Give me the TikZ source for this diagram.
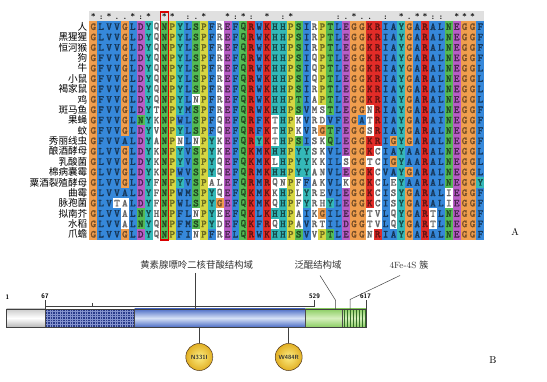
\documentclass[tikz,border=0pt]{standalone}
\usepackage{fontspec}
\newfontfamily\cjk{Noto Sans CJK SC}
\newfontfamily\almono{lmmonolt10-bold.otf}[FakeBold=1.2]
\definecolor{alb}{RGB}{54,136,218}
\definecolor{alr}{RGB}{226,44,40}
\definecolor{alm}{RGB}{184,94,198}
\definecolor{alg}{RGB}{84,186,84}
\definecolor{alo}{RGB}{240,158,78}
\definecolor{aly}{RGB}{214,214,66}
\definecolor{alc}{RGB}{52,184,184}
\definecolor{alw}{RGB}{255,255,255}
\colorlet{altb}{alb!40!black}
\colorlet{altr}{alr!45!black}
\colorlet{altm}{alm!40!black}
\colorlet{altg}{alg!40!black}
\colorlet{alto}{alo!50!black}
\colorlet{alty}{aly!50!black}
\colorlet{altc}{alc!40!black}
\colorlet{altw}{black!60}
\definecolor{navy}{RGB}{40,58,138}
\definecolor{navygrid}{RGB}{130,145,205}
\definecolor{blueA}{RGB}{78,110,198}
\definecolor{blueL}{RGB}{214,226,246}
\definecolor{greenA}{RGB}{140,205,100}
\definecolor{greenL}{RGB}{214,240,190}
\definecolor{hatchg}{RGB}{50,110,40}
\definecolor{goldin}{RGB}{252,236,130}
\definecolor{goldout}{RGB}{226,176,36}
\tikzset{
  res/.style={inner sep=0pt,font=\almono\fontsize{10.6}{10.6}\selectfont},
  splabel/.style={anchor=east,inner sep=0pt,font=\cjk\fontsize{9.6}{10}\selectfont},
  consv/.style={anchor=base,inner sep=0pt,font=\bfseries\fontsize{8}{8}\selectfont},
  cjklab/.style={inner sep=0pt,font=\cjk\fontsize{9.4}{10}\selectfont,text=black!80},
  numlab/.style={inner sep=0pt,font=\sffamily\bfseries\fontsize{6.5}{7}\selectfont},
  leader/.style={draw=black!75,line width=0.5pt},
  gridl/.style={draw=navygrid,line width=0.35pt},
  hatchl/.style={draw=hatchg,line width=0.5pt},
  mut/.style={circle,minimum size=27pt,inner sep=0pt,draw=black!60!brown,line width=0.5pt,
    inner color=goldin,outer color=goldout,font=\sffamily\bfseries\fontsize{6}{6}\selectfont,text=black!80},
  panel/.style={inner sep=0pt,font=\fontsize{10}{10}\selectfont}
}
\makeatletter
\newcount\alcol
\def\alrow#1#2#3#4{%
  \pgfmathsetmacro\rowtop{21.5+(#1-1)*10.38}%
  \edef\rowno{#1}%
  \node[splabel] (lab#1) at (87.5,\rowtop+5.19) {#2};%
  \alcol=0
  \al@step#3\relax#4\relax}
\def\al@step#1#2\relax#3#4\relax{%
  \advance\alcol by 1
  \pgfmathsetmacro\cellx{89.35+(\the\alcol-1)*7.9}%
  \fill[fill=al#3] (\cellx,\rowtop) rectangle ++(7.96,10.44);%
  \node[res,text=alt#3] (r\rowno c\the\alcol) at (\cellx+3.95,\rowtop+5.19) {#1};%
  \ifx\relax#2\relax\else\al@step#2\relax#4\relax\fi}
\def\hdrrow#1{\alcol=0 \hdr@step#1\relax}
\def\hdr@step#1#2\relax{%
  \advance\alcol by 1
  \ifx#1-\else
    \pgfmathsetmacro\cellx{89.35+(\the\alcol-0.5)*7.9}%
    \node[consv] (h\the\alcol) at (\cellx,19.3) {#1};%
  \fi
  \ifx\relax#2\relax\else\hdr@step#2\relax\fi}
\makeatother
\begin{document}
\begin{tikzpicture}[x=1pt,y=-1pt]
\fill[white] (0,0) rectangle (547,382);
\useasboundingbox (0,0) rectangle (547,382);
% ---------- panel A ----------
\fill[black!12] (89.35,11) rectangle (484.35,21.5);
\hdrrow{*:*..*:*-**-:.*--*:*:-*-:*-----:.*..-:-*.**::-***-}
\alrow{1}{人}{GLVVGLDYQNPYLSPFREFQRWKHHPSIRPTLEGGKRIAYGARALNEGGF}{obbbobmcwgycbgybwmbgrbrccygbwygbmoorrbbcobrbbgmoob}
\alrow{2}{黑猩猩}{GLVVGLDYQNPYLSPFREFQRWKHHPSIRPTLEGGKRIAYGARALNEGGF}{obbbobmcwgycbgybwmbgrbrccygbwygbmoorrbbcobrbbgmoob}
\alrow{3}{恒河猴}{GLVVGLDYQNPYLSPFREFQRWKHHPSIRPTLEGGKRIAYGARALNEGGF}{obbbobmcwgycbgybwmbgrbrccygbwygbmoorrbbcobrbbgmoob}
\alrow{4}{狗}{GFVVGLDYQNPYLSPFREFQRWKHHPSIQPTLEGGKRIAYGARALNEGGF}{obbbobmcwgycbgybwmbgrbrccygbwygbmoorrbbcobrbbgmoob}
\alrow{5}{牛}{GFVVGLDYQNPYLSPFREFQRWKHHPSIQPTLEGGKRIAYGARALNEGGL}{obbbobmcwgycbgybwmbgrbrccygbwygbmoorrbbcobrbbgmoob}
\alrow{6}{小鼠}{GFVVGLDYQNPYLSPFREFQRWKHHPSIQPTLEGGKRIAYGARALNEGGL}{obbbobmcwgycbgybwmbgrbrccygbwygbmoorrbbcobrbbgmoob}
\alrow{7}{褐家鼠}{GFVVGLDYQNPYLSPFREFQRWKHHPSIRPTLEGGKRIAYGARALNEGGL}{obbbobmcwgycbgybwmbgrbrccygbwygbmoorrbbcobrbbgmoob}
\alrow{8}{鸡}{GFVVGLDYQNPYLNPFREFQRWKHHPTIAPTLEGGKRIAYGARALNEGGL}{obbbobmcwgycbwybwmbgrbrccygbwygbmoorrbbcobrbbgmoob}
\alrow{9}{斑马鱼}{GFVVGLDYTNPYMSPFREFQRWKHHPSVMSTLEGGNRIAYGARALNEGGF}{obbbobmcwgycbgybwmbgrbrccygbwwgbmoowrbbcobrbbgmoob}
\alrow{10}{果蝇}{GFVVGLNYKNPWLSPFQEFQRFKTHPKVRDVFEGATRIAYGARAINEGGF}{obbbobgcwgybbgybwmbgrbrwcywbwwbbmobwrbbcobrbbgmoob}
\alrow{11}{蚊}{GFVVGLDYVNPYLSPFQEFQRFKTHPKVRGTFEGGSRIAYGARALNEGGF}{obbbobmcwgycbgybwmbgrbrwcywbwogbmoowrbbcobrbbgmoob}
\alrow{12}{秀丽线虫}{GFVVALDYANPNLNPYKEFQRYKTHPSISKQLEGGKRIGYGARALNEGGF}{obbbbbmcwgywbwycwmbgrcrwcygbwwgbmoorrbocobrbbgmoob}
\alrow{13}{酿酒酵母}{GLVVGLDYKNPYVSPYKEFQKMKHHPYYSKVLEGGKCIAYAARALNEGGL}{obbbobmcwgycbgycwmbgrbrccyccwwbbmoorwbbcbbrbbgmoob}
\alrow{14}{乳酸菌}{GLVVGLDYKNPYVSPYQEFQKMKLHPYYKKILSGGTCIGYAARALNEGGL}{obbbobmcwgycbgycwmbgrbrwcyccwwbbwoowwbocbbrbbgmoob}
\alrow{15}{棉病囊霉}{GLVVGLDYKNPWVSPYQEFQRMKHHPYYANVLEGGKCVAYGARALNEGGL}{obbbobmcwgybbgycwmbgrbrccyccwwbbmoorwbbcobrbbgmoob}
\alrow{16}{粟酒裂殖酵母}{GLVVGLDYFNPYVSPALEFQRMRQNPFFAKVLKGGKCLEYAARALNEGGY}{obbbobmcwgycbgywwmbgrbrwwywbwwbbwoorwbwcbbrbbgmooc}
\alrow{17}{曲霉}{GLVVALDYFNPWMSPYQEFQKMKKHPLYREVLEGGKCISYGARALIEGGF}{obbbbbmcwgybbgycwmbgrbrwcywcwwbbmoorwbwcobrbbwmoob}
\alrow{18}{脉孢菌}{GLVTALDYFNPWLSPYGEFQKMKQHPFYRHYLEGGKCISYGARALIEGGF}{obbwwbmcwgybbgycombgrbrwcywcwwcbmoorwbwcobrbbwmoob}
\alrow{19}{拟南芥}{GLVVALNYHNPFLNPYEEFQKLKHHPAIKGILEGGTVLQYGARTLNEGGF}{obbbwbgcwgybbwycwmbgrbrccywbwobbmoowwbwcobrwbgmoob}
\alrow{20}{水稻}{GLVVALNYQNPFMSPYDEFQKFRQHPAVRTILDGGTVLQYGARTLNEGGF}{obbbwbgcwgybbgycwmbgrbrwcywbwwbbmoowwbwcobrwbgmoob}
\alrow{21}{爪蟾}{GLVVGLDYQNPFINPFRELQRWKHHPSVVPTLEGGNRIAYGARALNEGGF}{obbbobmcwgybbwybwmbgrbrccygbwygbmoowrbbcobrbbgmoob}
\draw[red!85!black,line width=1.1pt] (160.45,12) rectangle (168.35,240);
\node[panel] (pA) at (515,232) {A};
% ---------- panel B ----------
\shade[top color=gray!40,bottom color=gray!55,middle color=white] (6.7,309) rectangle (45.3,327);
\fill[navy] (45.3,309) rectangle (134.7,327);
\foreach \gx in {47.5,50,...,133} \draw[gridl] (\gx,309) -- (\gx,327);
\foreach \gy in {311.5,314,...,325.5} \draw[gridl] (45.3,\gy) -- (134.7,\gy);
\shade[top color=blueA,bottom color=blueA,middle color=blueL] (134.7,309) rectangle (305.7,327);
\shade[top color=greenA,bottom color=greenA,middle color=greenL] (305.7,309) rectangle (366.7,327);
\foreach \hx in {344.5,347.5,...,366} \draw[hatchl] (\hx,309) -- (\hx,327);
\draw[black!70,line width=0.5pt] (45.3,309) -- (45.3,327) (134.7,309) -- (134.7,327) (305.7,309) -- (305.7,327) (342.3,309) -- (342.3,327);
\draw[black!75,line width=0.6pt] (6.7,309) rectangle (366.7,327);
% numbers
\node[numlab] (n1) at (7.3,296.7) {1};
\node[numlab] (n67) at (45,296.7) {67};
\node[numlab] (n529) at (314.5,296.7) {529};
\node[numlab] (n617) at (365.5,296.7) {617};
\coordinate (t67a) at (45.3,300.5);
\coordinate (t67b) at (45.3,309);
\coordinate (t529a) at (314.5,300.5);
\coordinate (t529b) at (314.5,306);
\coordinate (t617a) at (366.7,300.5);
\coordinate (t617b) at (366.7,309);
\coordinate (tm1) at (92,303);
\coordinate (tm2) at (92,306);
\draw[leader] (t67a) -- (t67b);
\draw[leader] (t529a) -- (t529b);
\draw[leader] (t617a) -- (t617b);
\draw[leader] (t67a |- t529b) -- (t529b);
\draw[leader] (tm1) -- (tm2);
% labels and leaders
\node[cjklab] (fad) at (196.7,265) {黄素腺嘌呤二核苷酸结构域};
\node[cjklab] (ubq) at (318,265) {泛醌结构域};
\node[cjklab] (fes) at (409,265) {\fontsize{9}{10}\selectfont\rmfamily 4Fe-4S\ \cjk 簇};
\coordinate (fadA) at (195,273);
\coordinate (fadB) at (195,310);
\coordinate (ubqA) at (320,275.5);
\coordinate (ubqB) at (335.7,300.5);
\coordinate (ubqC) at (335.7,309);
\coordinate (fesA) at (400,275.5);
\coordinate (fesB) at (350,299.5);
\coordinate (fesC) at (350,309);
\draw[leader] (fadA) -- (fadB);
\draw[leader] (ubqA) -- (ubqB) -- (ubqC);
\draw[leader] (fesA) -- (fesB) -- (fesC);
% mutations
\node[mut] (m1) at (199.3,357) {N331I};
\node[mut] (m2) at (288.7,357) {W484R};
\coordinate (m1bar) at (199.3,327);
\coordinate (m2bar) at (288.7,327);
\draw[leader] (m1bar) -- (m1);
\draw[leader] (m2bar) -- (m2);
\node[panel] (pB) at (493,360) {B};
\end{tikzpicture}
\end{document}
